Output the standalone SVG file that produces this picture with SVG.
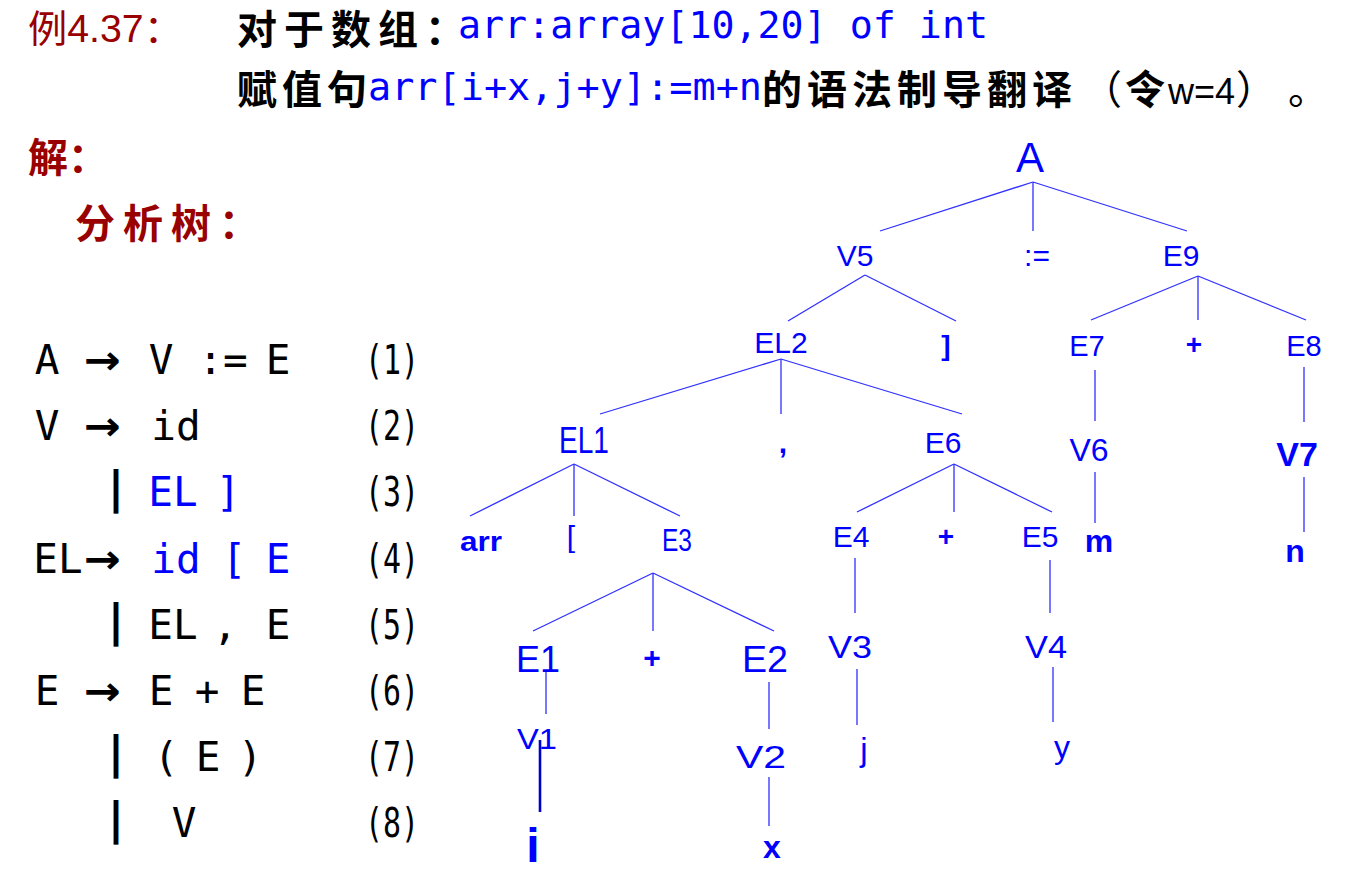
<svg xmlns="http://www.w3.org/2000/svg" width="1346" height="879" viewBox="0 0 1346 879">
<style>
.t{font-family:'Liberation Sans',Arial,sans-serif;fill:#0000ff;text-anchor:middle}
.b{font-weight:bold}
.g{font-family:'DejaVu Sans Mono',monospace;font-size:41px;fill:#000;text-anchor:middle}
.gb{fill:#0000ff}
.bar{font-family:'DejaVu Sans Mono',monospace;font-weight:bold;font-size:44px;fill:#000;text-anchor:middle}
.num{font-family:'DejaVu Sans Mono',monospace;font-size:40px;fill:#000}
.ar{font-family:'DejaVu Sans',sans-serif;font-weight:bold;font-size:40px;fill:#000}
.cj{font-family:'Noto Sans CJK SC',sans-serif;font-weight:bold;font-size:40px;fill:#000}
.red{fill:#990000}
.mono{font-family:'DejaVu Sans Mono','Liberation Mono',monospace;font-size:38px;fill:#0000ff}
#edges line{stroke:#3030ff;stroke-width:1.3}
</style>
<rect width="1346" height="879" fill="#fff"/>

<g id="header">
<text x="28" y="42" font-family="'Liberation Sans','Noto Sans CJK SC',sans-serif" font-size="38" fill="#990000" textLength="155" lengthAdjust="spacingAndGlyphs">例4.37：</text>
<text x="237" y="44" class="cj" letter-spacing="7">对于数组：</text>
<text x="458" y="38" class="mono" textLength="530" lengthAdjust="spacingAndGlyphs">arr:array[10,20] of int</text>
<text x="237" y="104" class="cj" letter-spacing="5">赋值句</text>
<text x="368" y="100" class="mono" textLength="394" lengthAdjust="spacingAndGlyphs">arr[i+x,j+y]:=m+n</text>
<text x="762" y="104" class="cj" letter-spacing="5">的语法制导翻译</text>
<text y="104" font-family="'Noto Sans CJK SC',sans-serif" font-size="40" fill="#000"><tspan x="1082">（</tspan><tspan x="1125" font-weight="bold">令</tspan><tspan x="1168" font-family="'Liberation Sans',sans-serif" font-size="36" y="104">w=4</tspan><tspan x="1236">）</tspan><tspan x="1288">。</tspan></text>
<text x="28" y="172" class="cj red">解：</text>
<text x="75" y="238" class="cj red" letter-spacing="8">分析树：</text>
</g>

<g id="grammar">
<g id="rule1">
<text class="g" x="47" y="374">A</text><text class="ar" x="84" y="374" textLength="37" lengthAdjust="spacingAndGlyphs">→</text><text class="g" x="161" y="374">V</text><text class="g" x="223" y="374">:=</text><text class="g" x="278" y="374">E</text><text class="num" x="365" y="374" textLength="54" lengthAdjust="spacingAndGlyphs">(1)</text>
</g>
<g id="rule2">
<text class="g" x="47" y="440">V</text><text class="ar" x="84" y="440" textLength="37" lengthAdjust="spacingAndGlyphs">→</text><text class="g" x="176" y="440">id</text><text class="num" x="365" y="440" textLength="54" lengthAdjust="spacingAndGlyphs">(2)</text>
</g>
<g id="rule3">
<text class="bar" x="116" y="503">|</text><text class="g gb" x="173" y="506">EL</text><text class="g gb" x="228" y="506">]</text><text class="num" x="365" y="506" textLength="54" lengthAdjust="spacingAndGlyphs">(3)</text>
</g>
<g id="rule4">
<text class="g" x="58" y="573">EL</text><text class="ar" x="84" y="573" textLength="37" lengthAdjust="spacingAndGlyphs">→</text><text class="g gb" x="176" y="573">id</text><text class="g gb" x="234" y="573">[</text><text class="g gb" x="278" y="573">E</text><text class="num" x="365" y="573" textLength="54" lengthAdjust="spacingAndGlyphs">(4)</text>
</g>
<g id="rule5">
<text class="bar" x="116" y="636">|</text><text class="g" x="173" y="639">EL</text><text class="g" x="225" y="639">,</text><text class="g" x="278" y="639">E</text><text class="num" x="365" y="639" textLength="54" lengthAdjust="spacingAndGlyphs">(5)</text>
</g>
<g id="rule6">
<text class="g" x="47" y="705">E</text><text class="ar" x="84" y="705" textLength="37" lengthAdjust="spacingAndGlyphs">→</text><text class="g" x="161" y="705">E</text><text class="g" x="207" y="705">+</text><text class="g" x="253" y="705">E</text><text class="num" x="365" y="705" textLength="54" lengthAdjust="spacingAndGlyphs">(6)</text>
</g>
<g id="rule7">
<text class="bar" x="116" y="768">|</text><text class="g" x="166" y="771">(</text><text class="g" x="208" y="771">E</text><text class="g" x="250" y="771">)</text><text class="num" x="365" y="771" textLength="54" lengthAdjust="spacingAndGlyphs">(7)</text>
</g>
<g id="rule8">
<text class="bar" x="116" y="834">|</text><text class="g" x="184" y="837">V</text><text class="num" x="365" y="837" textLength="54" lengthAdjust="spacingAndGlyphs">(8)</text>
</g>
</g>

<g id="edges">
<line x1="1033" y1="182" x2="880" y2="231"/><line x1="1033" y1="182" x2="1033" y2="231"/><line x1="1033" y1="182" x2="1187" y2="231"/>
<line x1="865" y1="275" x2="788" y2="321"/><line x1="865" y1="275" x2="956" y2="321"/>
<line x1="1198" y1="276" x2="1091" y2="320"/><line x1="1198" y1="276" x2="1198" y2="320"/><line x1="1198" y1="276" x2="1306" y2="320"/>
<line x1="781" y1="359" x2="600" y2="414"/><line x1="781" y1="359" x2="781" y2="414"/><line x1="781" y1="359" x2="962" y2="414"/>
<line x1="574" y1="464" x2="470" y2="516"/><line x1="574" y1="464" x2="574" y2="516"/><line x1="574" y1="464" x2="680" y2="516"/>
<line x1="954" y1="464" x2="857" y2="512"/><line x1="954" y1="464" x2="954" y2="512"/><line x1="954" y1="464" x2="1052" y2="512"/>
<line x1="1095" y1="370" x2="1095" y2="421"/><line x1="1095" y1="472" x2="1095" y2="523"/>
<line x1="1304" y1="367" x2="1304" y2="422"/><line x1="1304" y1="477" x2="1304" y2="532"/>
<line x1="653" y1="573" x2="533" y2="631"/><line x1="653" y1="573" x2="653" y2="631"/><line x1="653" y1="573" x2="774" y2="631"/>
<line x1="855" y1="558" x2="855" y2="613"/><line x1="857" y1="669" x2="857" y2="725"/>
<line x1="1050" y1="560" x2="1050" y2="613"/><line x1="1053" y1="667" x2="1053" y2="722"/>
<line x1="546" y1="670" x2="546" y2="714"/>
<line x1="540" y1="740" x2="540" y2="812" style="stroke:#0000cc;stroke-width:2.6"/>
<line x1="769" y1="682" x2="769" y2="729"/><line x1="769" y1="777" x2="769" y2="826"/>
</g>

<g id="tree">
<g id="n-A"><text class="t" x="1030" y="172" font-size="42">A</text></g>
<g id="n-V5"><text class="t" x="855" y="266" font-size="30">V5</text></g>
<g id="n-assign"><text class="t" x="1037" y="266" font-size="30">:=</text></g>
<g id="n-E9"><text class="t" x="1181" y="266" font-size="30">E9</text></g>
<g id="n-EL2"><text class="t" x="781" y="353" font-size="30">EL2</text></g>
<g id="n-rbr"><text class="t b" x="946" y="355" font-size="28">]</text></g>
<g id="n-E7"><text class="t" x="1087" y="356" font-size="29">E7</text></g>
<g id="n-plus3"><text class="t b" x="1194" y="354" font-size="28">+</text></g>
<g id="n-E8"><text class="t" x="1304" y="356" font-size="29">E8</text></g>
<g id="n-EL1"><text class="t" x="584" y="453" font-size="36" textLength="50" lengthAdjust="spacingAndGlyphs">EL1</text></g>
<g id="n-comma"><text class="t b" x="783" y="453" font-size="30">,</text></g>
<g id="n-E6"><text class="t" x="943" y="453" font-size="30">E6</text></g>
<g id="n-V6"><text class="t" x="1089" y="461" font-size="32">V6</text></g>
<g id="n-V7"><text class="t b" x="1297" y="466" font-size="34">V7</text></g>
<g id="n-arr"><text class="t b" x="481" y="551" font-size="27" textLength="42" lengthAdjust="spacingAndGlyphs">arr</text></g>
<g id="n-lbr"><text class="t" x="571" y="547" font-size="30">[</text></g>
<g id="n-E3"><text class="t" x="677" y="551" font-size="31" textLength="30" lengthAdjust="spacingAndGlyphs">E3</text></g>
<g id="n-E4"><text class="t" x="851" y="547" font-size="30">E4</text></g>
<g id="n-plus2"><text class="t b" x="946" y="546" font-size="28">+</text></g>
<g id="n-E5"><text class="t" x="1040" y="547" font-size="30">E5</text></g>
<g id="n-m"><text class="t b" x="1099" y="552" font-size="32">m</text></g>
<g id="n-n"><text class="t b" x="1295" y="562" font-size="32">n</text></g>
<g id="n-E1"><text class="t" x="538" y="672" font-size="37" textLength="44" lengthAdjust="spacingAndGlyphs">E1</text></g>
<g id="n-plus1"><text class="t b" x="652" y="668" font-size="30">+</text></g>
<g id="n-E2"><text class="t" x="765" y="672" font-size="37" textLength="46" lengthAdjust="spacingAndGlyphs">E2</text></g>
<g id="n-V3"><text class="t" x="850" y="658" font-size="31" textLength="44" lengthAdjust="spacingAndGlyphs">V3</text></g>
<g id="n-V4"><text class="t" x="1046" y="658" font-size="31" textLength="42" lengthAdjust="spacingAndGlyphs">V4</text></g>
<g id="n-V1"><text class="t" x="537" y="749" font-size="29" textLength="40" lengthAdjust="spacingAndGlyphs">V1</text></g>
<g id="n-V2"><text class="t" x="761" y="768" font-size="32" textLength="50" lengthAdjust="spacingAndGlyphs">V2</text></g>
<g id="n-j"><text class="t" x="864" y="761" font-size="33">j</text></g>
<g id="n-y"><text class="t" x="1062" y="758" font-size="32">y</text></g>
<g id="n-i"><text class="t b" x="533" y="862" font-size="48">i</text></g>
<g id="n-x"><text class="t b" x="772" y="858" font-size="32">x</text></g>
</g>
</svg>
